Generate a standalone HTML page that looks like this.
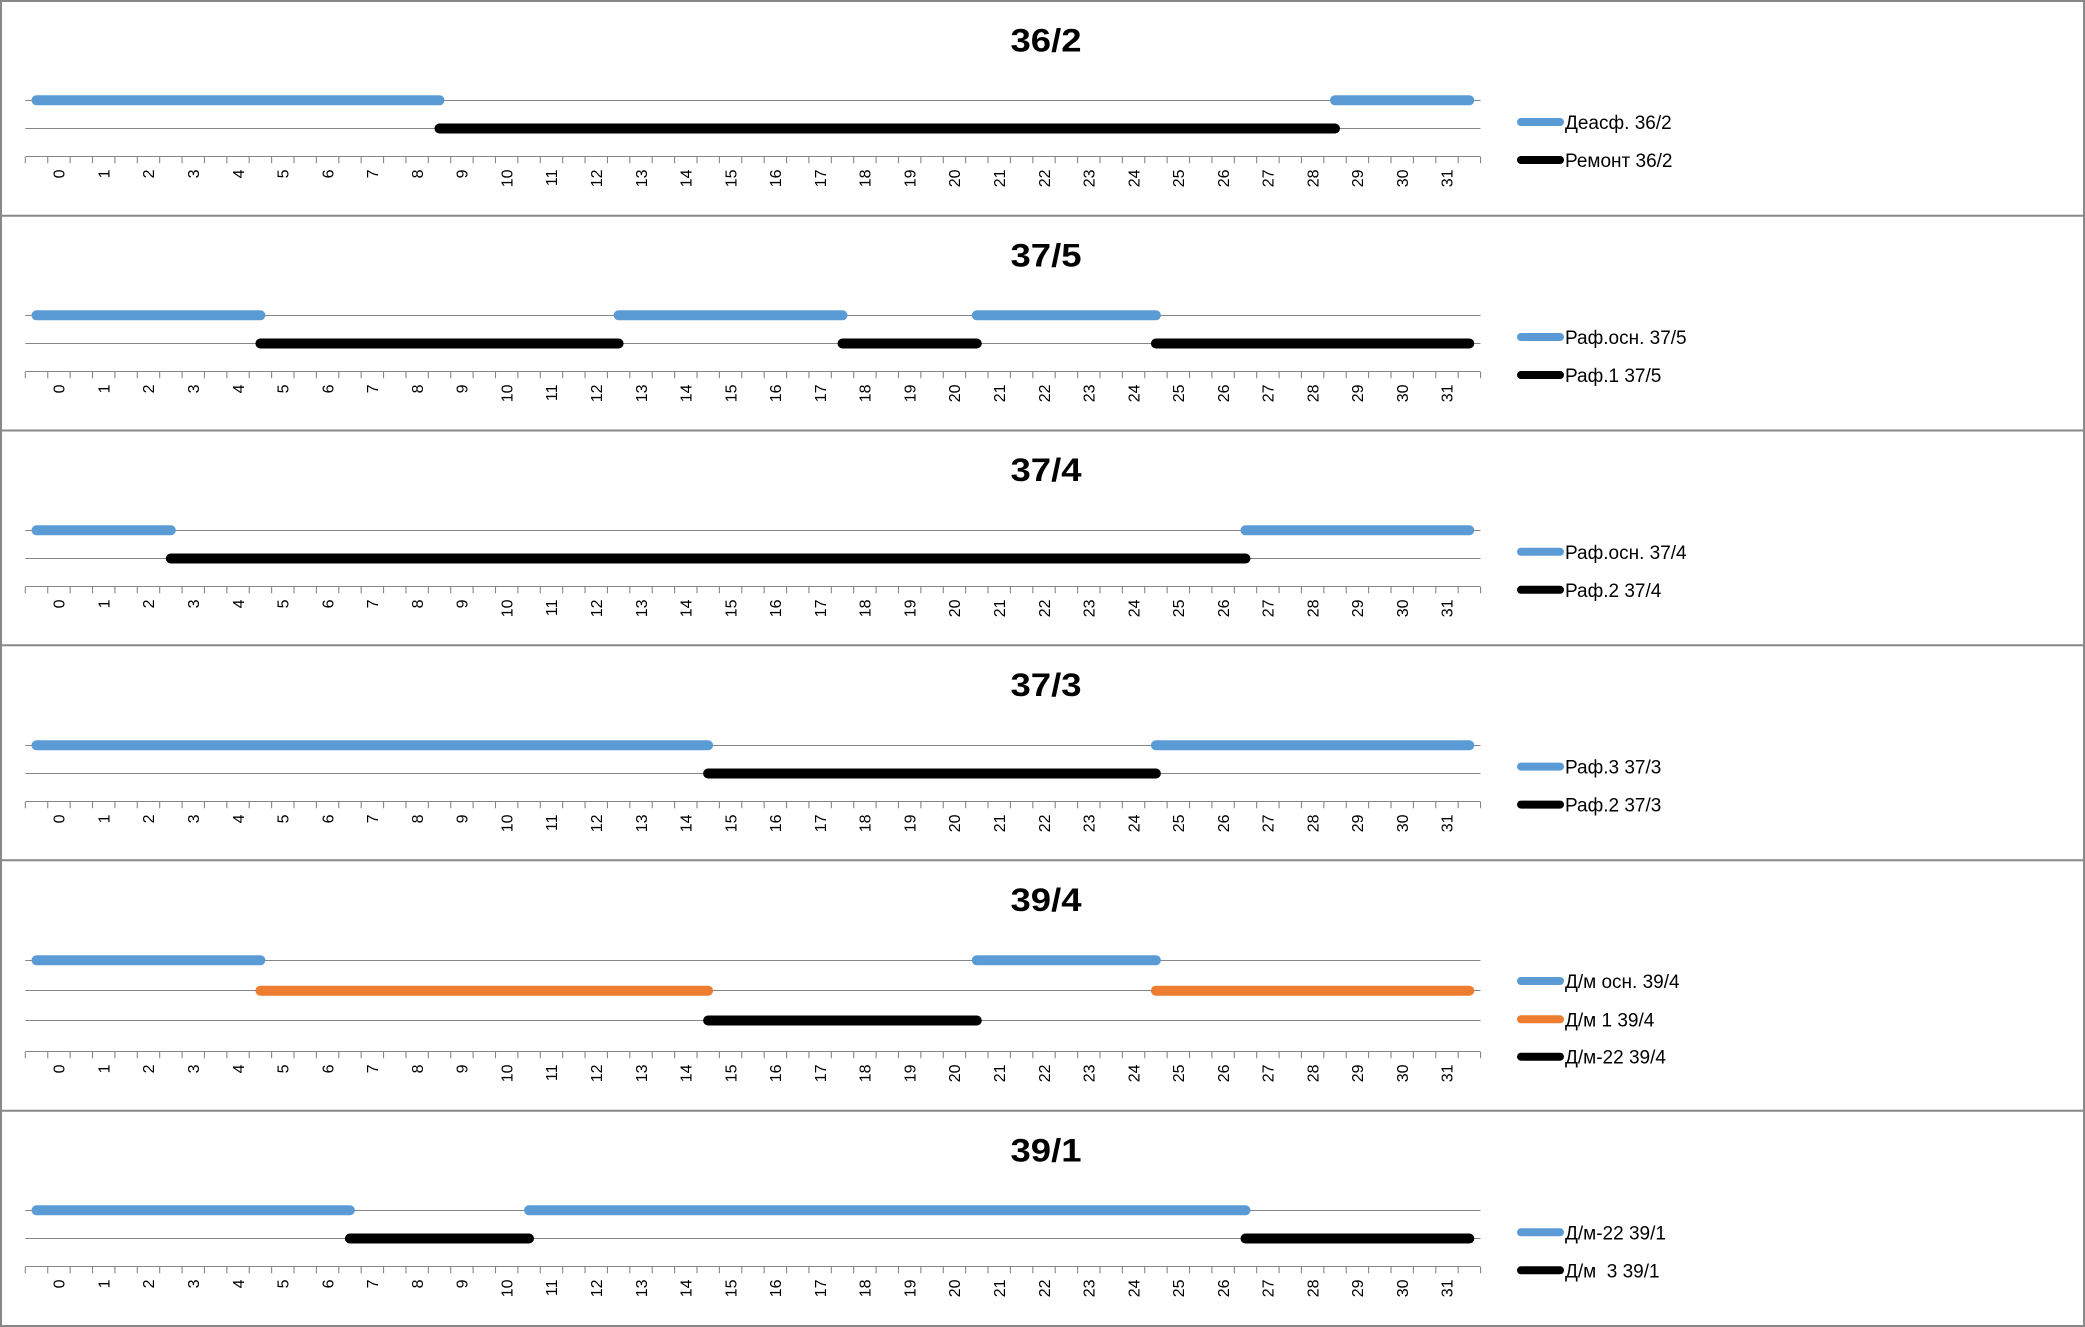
<!DOCTYPE html>
<html>
<head>
<meta charset="utf-8">
<style>
html,body{margin:0;padding:0;background:#fff;}
svg{display:block;}
.t{font-family:"Liberation Sans",sans-serif;font-weight:bold;font-size:32px;fill:#000;text-anchor:middle;}
.lab text{font-family:"Liberation Sans",sans-serif;font-size:16px;fill:#000;text-anchor:end;}
.leg{font-family:"Liberation Sans","DejaVu Sans",sans-serif;font-size:19px;fill:#000;}
.g{stroke:#868686;stroke-width:1;fill:none;}
.tk{stroke:#868686;stroke-width:6.3;stroke-dasharray:1.1 21.288;fill:none;}
.s{fill:none;stroke-width:10;stroke-linecap:round;stroke-linejoin:round;}
.b{stroke:#5B9BD5;}
.k{stroke:#000;}
.o{stroke:#ED7D31;}
.ls{fill:none;stroke-width:8;stroke-linecap:round;}
</style>
</head>
<body>
<svg width="2085" height="1327" viewBox="0 0 2085 1327" xmlns="http://www.w3.org/2000/svg">
<rect x="0" y="0" width="2085" height="1327" fill="#fff"/>

<!-- ===== Panel 1 ===== -->
<text class="t" x="1046" y="51.7" textLength="71" lengthAdjust="spacingAndGlyphs">36/2</text>
<line class="g" x1="25.3" y1="100.5" x2="1480.5" y2="100.5"/>
<line class="g" x1="25.3" y1="128.5" x2="1480.5" y2="128.5"/>
<line class="g" x1="25.3" y1="156.5" x2="1480.5" y2="156.5"/>
<line class="tk" x1="24.8" y1="160.15" x2="1482" y2="160.15"/>
<line class="s b" x1="36.5" y1="100.3" x2="439.5" y2="100.3"/>
<line class="s b" x1="1335" y1="100.3" x2="1469.3" y2="100.3"/>
<line class="s k" x1="439.5" y1="128.5" x2="1335" y2="128.5"/>
<line class="ls b" x1="1521" y1="122" x2="1560" y2="122"/>
<text class="leg" x="1565" y="129">Деасф. 36/2</text>
<line class="ls k" x1="1521" y1="160" x2="1560" y2="160"/>
<text class="leg" x="1565" y="167">Ремонт 36/2</text>
<g class="lab" transform="translate(0,169.5)">
<text transform="translate(58.9,0) rotate(-90)" dy="0.36em">0</text>
<text transform="translate(103.7,0) rotate(-90)" dy="0.36em">1</text>
<text transform="translate(148.4,0) rotate(-90)" dy="0.36em">2</text>
<text transform="translate(193.2,0) rotate(-90)" dy="0.36em">3</text>
<text transform="translate(238.0,0) rotate(-90)" dy="0.36em">4</text>
<text transform="translate(282.8,0) rotate(-90)" dy="0.36em">5</text>
<text transform="translate(327.5,0) rotate(-90)" dy="0.36em">6</text>
<text transform="translate(372.3,0) rotate(-90)" dy="0.36em">7</text>
<text transform="translate(417.1,0) rotate(-90)" dy="0.36em">8</text>
<text transform="translate(461.9,0) rotate(-90)" dy="0.36em">9</text>
<text transform="translate(506.6,0) rotate(-90)" dy="0.36em">10</text>
<text transform="translate(551.4,0) rotate(-90)" dy="0.36em">11</text>
<text transform="translate(596.2,0) rotate(-90)" dy="0.36em">12</text>
<text transform="translate(641.0,0) rotate(-90)" dy="0.36em">13</text>
<text transform="translate(685.7,0) rotate(-90)" dy="0.36em">14</text>
<text transform="translate(730.5,0) rotate(-90)" dy="0.36em">15</text>
<text transform="translate(775.3,0) rotate(-90)" dy="0.36em">16</text>
<text transform="translate(820.1,0) rotate(-90)" dy="0.36em">17</text>
<text transform="translate(864.9,0) rotate(-90)" dy="0.36em">18</text>
<text transform="translate(909.6,0) rotate(-90)" dy="0.36em">19</text>
<text transform="translate(954.4,0) rotate(-90)" dy="0.36em">20</text>
<text transform="translate(999.2,0) rotate(-90)" dy="0.36em">21</text>
<text transform="translate(1044.0,0) rotate(-90)" dy="0.36em">22</text>
<text transform="translate(1088.7,0) rotate(-90)" dy="0.36em">23</text>
<text transform="translate(1133.5,0) rotate(-90)" dy="0.36em">24</text>
<text transform="translate(1178.3,0) rotate(-90)" dy="0.36em">25</text>
<text transform="translate(1223.1,0) rotate(-90)" dy="0.36em">26</text>
<text transform="translate(1267.8,0) rotate(-90)" dy="0.36em">27</text>
<text transform="translate(1312.6,0) rotate(-90)" dy="0.36em">28</text>
<text transform="translate(1357.4,0) rotate(-90)" dy="0.36em">29</text>
<text transform="translate(1402.2,0) rotate(-90)" dy="0.36em">30</text>
<text transform="translate(1446.9,0) rotate(-90)" dy="0.36em">31</text>
</g>

<!-- ===== Panel 2 ===== -->
<text class="t" x="1046" y="266.4" textLength="71" lengthAdjust="spacingAndGlyphs">37/5</text>
<line class="g" x1="25.3" y1="315.5" x2="1480.5" y2="315.5"/>
<line class="g" x1="25.3" y1="343.5" x2="1480.5" y2="343.5"/>
<line class="g" x1="25.3" y1="371.5" x2="1480.5" y2="371.5"/>
<line class="tk" x1="24.8" y1="375.15" x2="1482" y2="375.15"/>
<line class="s b" x1="36.5" y1="315.3" x2="260.4" y2="315.3"/>
<line class="s b" x1="618.6" y1="315.3" x2="842.5" y2="315.3"/>
<line class="s b" x1="976.8" y1="315.3" x2="1155.9" y2="315.3"/>
<line class="s k" x1="260.4" y1="343.5" x2="618.6" y2="343.5"/>
<line class="s k" x1="842.5" y1="343.5" x2="976.8" y2="343.5"/>
<line class="s k" x1="1155.9" y1="343.5" x2="1469.3" y2="343.5"/>
<line class="ls b" x1="1521" y1="337" x2="1560" y2="337"/>
<text class="leg" x="1565" y="344">Раф.осн. 37/5</text>
<line class="ls k" x1="1521" y1="375" x2="1560" y2="375"/>
<text class="leg" x="1565" y="382">Раф.1 37/5</text>
<g class="lab" transform="translate(0,384.5)">
<text transform="translate(58.9,0) rotate(-90)" dy="0.36em">0</text>
<text transform="translate(103.7,0) rotate(-90)" dy="0.36em">1</text>
<text transform="translate(148.4,0) rotate(-90)" dy="0.36em">2</text>
<text transform="translate(193.2,0) rotate(-90)" dy="0.36em">3</text>
<text transform="translate(238.0,0) rotate(-90)" dy="0.36em">4</text>
<text transform="translate(282.8,0) rotate(-90)" dy="0.36em">5</text>
<text transform="translate(327.5,0) rotate(-90)" dy="0.36em">6</text>
<text transform="translate(372.3,0) rotate(-90)" dy="0.36em">7</text>
<text transform="translate(417.1,0) rotate(-90)" dy="0.36em">8</text>
<text transform="translate(461.9,0) rotate(-90)" dy="0.36em">9</text>
<text transform="translate(506.6,0) rotate(-90)" dy="0.36em">10</text>
<text transform="translate(551.4,0) rotate(-90)" dy="0.36em">11</text>
<text transform="translate(596.2,0) rotate(-90)" dy="0.36em">12</text>
<text transform="translate(641.0,0) rotate(-90)" dy="0.36em">13</text>
<text transform="translate(685.7,0) rotate(-90)" dy="0.36em">14</text>
<text transform="translate(730.5,0) rotate(-90)" dy="0.36em">15</text>
<text transform="translate(775.3,0) rotate(-90)" dy="0.36em">16</text>
<text transform="translate(820.1,0) rotate(-90)" dy="0.36em">17</text>
<text transform="translate(864.9,0) rotate(-90)" dy="0.36em">18</text>
<text transform="translate(909.6,0) rotate(-90)" dy="0.36em">19</text>
<text transform="translate(954.4,0) rotate(-90)" dy="0.36em">20</text>
<text transform="translate(999.2,0) rotate(-90)" dy="0.36em">21</text>
<text transform="translate(1044.0,0) rotate(-90)" dy="0.36em">22</text>
<text transform="translate(1088.7,0) rotate(-90)" dy="0.36em">23</text>
<text transform="translate(1133.5,0) rotate(-90)" dy="0.36em">24</text>
<text transform="translate(1178.3,0) rotate(-90)" dy="0.36em">25</text>
<text transform="translate(1223.1,0) rotate(-90)" dy="0.36em">26</text>
<text transform="translate(1267.8,0) rotate(-90)" dy="0.36em">27</text>
<text transform="translate(1312.6,0) rotate(-90)" dy="0.36em">28</text>
<text transform="translate(1357.4,0) rotate(-90)" dy="0.36em">29</text>
<text transform="translate(1402.2,0) rotate(-90)" dy="0.36em">30</text>
<text transform="translate(1446.9,0) rotate(-90)" dy="0.36em">31</text>
</g>

<!-- ===== Panel 3 ===== -->
<text class="t" x="1046" y="481.2" textLength="71" lengthAdjust="spacingAndGlyphs">37/4</text>
<line class="g" x1="25.3" y1="530.5" x2="1480.5" y2="530.5"/>
<line class="g" x1="25.3" y1="558.5" x2="1480.5" y2="558.5"/>
<line class="g" x1="25.3" y1="586.5" x2="1480.5" y2="586.5"/>
<line class="tk" x1="24.8" y1="590.15" x2="1482" y2="590.15"/>
<line class="s b" x1="36.5" y1="530.3" x2="170.8" y2="530.3"/>
<line class="s b" x1="1245.5" y1="530.3" x2="1469.3" y2="530.3"/>
<line class="s k" x1="170.8" y1="558.5" x2="1245.5" y2="558.5"/>
<line class="ls b" x1="1521" y1="551.8" x2="1560" y2="551.8"/>
<text class="leg" x="1565" y="558.8">Раф.осн. 37/4</text>
<line class="ls k" x1="1521" y1="589.8" x2="1560" y2="589.8"/>
<text class="leg" x="1565" y="596.8">Раф.2 37/4</text>
<g class="lab" transform="translate(0,599.5)">
<text transform="translate(58.9,0) rotate(-90)" dy="0.36em">0</text>
<text transform="translate(103.7,0) rotate(-90)" dy="0.36em">1</text>
<text transform="translate(148.4,0) rotate(-90)" dy="0.36em">2</text>
<text transform="translate(193.2,0) rotate(-90)" dy="0.36em">3</text>
<text transform="translate(238.0,0) rotate(-90)" dy="0.36em">4</text>
<text transform="translate(282.8,0) rotate(-90)" dy="0.36em">5</text>
<text transform="translate(327.5,0) rotate(-90)" dy="0.36em">6</text>
<text transform="translate(372.3,0) rotate(-90)" dy="0.36em">7</text>
<text transform="translate(417.1,0) rotate(-90)" dy="0.36em">8</text>
<text transform="translate(461.9,0) rotate(-90)" dy="0.36em">9</text>
<text transform="translate(506.6,0) rotate(-90)" dy="0.36em">10</text>
<text transform="translate(551.4,0) rotate(-90)" dy="0.36em">11</text>
<text transform="translate(596.2,0) rotate(-90)" dy="0.36em">12</text>
<text transform="translate(641.0,0) rotate(-90)" dy="0.36em">13</text>
<text transform="translate(685.7,0) rotate(-90)" dy="0.36em">14</text>
<text transform="translate(730.5,0) rotate(-90)" dy="0.36em">15</text>
<text transform="translate(775.3,0) rotate(-90)" dy="0.36em">16</text>
<text transform="translate(820.1,0) rotate(-90)" dy="0.36em">17</text>
<text transform="translate(864.9,0) rotate(-90)" dy="0.36em">18</text>
<text transform="translate(909.6,0) rotate(-90)" dy="0.36em">19</text>
<text transform="translate(954.4,0) rotate(-90)" dy="0.36em">20</text>
<text transform="translate(999.2,0) rotate(-90)" dy="0.36em">21</text>
<text transform="translate(1044.0,0) rotate(-90)" dy="0.36em">22</text>
<text transform="translate(1088.7,0) rotate(-90)" dy="0.36em">23</text>
<text transform="translate(1133.5,0) rotate(-90)" dy="0.36em">24</text>
<text transform="translate(1178.3,0) rotate(-90)" dy="0.36em">25</text>
<text transform="translate(1223.1,0) rotate(-90)" dy="0.36em">26</text>
<text transform="translate(1267.8,0) rotate(-90)" dy="0.36em">27</text>
<text transform="translate(1312.6,0) rotate(-90)" dy="0.36em">28</text>
<text transform="translate(1357.4,0) rotate(-90)" dy="0.36em">29</text>
<text transform="translate(1402.2,0) rotate(-90)" dy="0.36em">30</text>
<text transform="translate(1446.9,0) rotate(-90)" dy="0.36em">31</text>
</g>

<!-- ===== Panel 4 ===== -->
<text class="t" x="1046" y="696" textLength="71" lengthAdjust="spacingAndGlyphs">37/3</text>
<line class="g" x1="25.3" y1="745.5" x2="1480.5" y2="745.5"/>
<line class="g" x1="25.3" y1="773.5" x2="1480.5" y2="773.5"/>
<line class="g" x1="25.3" y1="801.5" x2="1480.5" y2="801.5"/>
<line class="tk" x1="24.8" y1="805.15" x2="1482" y2="805.15"/>
<line class="s b" x1="36.5" y1="745.3" x2="708.1" y2="745.3"/>
<line class="s b" x1="1155.9" y1="745.3" x2="1469.3" y2="745.3"/>
<line class="s k" x1="708.1" y1="773.5" x2="1155.9" y2="773.5"/>
<line class="ls b" x1="1521" y1="766.6" x2="1560" y2="766.6"/>
<text class="leg" x="1565" y="773.6">Раф.3 37/3</text>
<line class="ls k" x1="1521" y1="804.6" x2="1560" y2="804.6"/>
<text class="leg" x="1565" y="811.6">Раф.2 37/3</text>
<g class="lab" transform="translate(0,814.5)">
<text transform="translate(58.9,0) rotate(-90)" dy="0.36em">0</text>
<text transform="translate(103.7,0) rotate(-90)" dy="0.36em">1</text>
<text transform="translate(148.4,0) rotate(-90)" dy="0.36em">2</text>
<text transform="translate(193.2,0) rotate(-90)" dy="0.36em">3</text>
<text transform="translate(238.0,0) rotate(-90)" dy="0.36em">4</text>
<text transform="translate(282.8,0) rotate(-90)" dy="0.36em">5</text>
<text transform="translate(327.5,0) rotate(-90)" dy="0.36em">6</text>
<text transform="translate(372.3,0) rotate(-90)" dy="0.36em">7</text>
<text transform="translate(417.1,0) rotate(-90)" dy="0.36em">8</text>
<text transform="translate(461.9,0) rotate(-90)" dy="0.36em">9</text>
<text transform="translate(506.6,0) rotate(-90)" dy="0.36em">10</text>
<text transform="translate(551.4,0) rotate(-90)" dy="0.36em">11</text>
<text transform="translate(596.2,0) rotate(-90)" dy="0.36em">12</text>
<text transform="translate(641.0,0) rotate(-90)" dy="0.36em">13</text>
<text transform="translate(685.7,0) rotate(-90)" dy="0.36em">14</text>
<text transform="translate(730.5,0) rotate(-90)" dy="0.36em">15</text>
<text transform="translate(775.3,0) rotate(-90)" dy="0.36em">16</text>
<text transform="translate(820.1,0) rotate(-90)" dy="0.36em">17</text>
<text transform="translate(864.9,0) rotate(-90)" dy="0.36em">18</text>
<text transform="translate(909.6,0) rotate(-90)" dy="0.36em">19</text>
<text transform="translate(954.4,0) rotate(-90)" dy="0.36em">20</text>
<text transform="translate(999.2,0) rotate(-90)" dy="0.36em">21</text>
<text transform="translate(1044.0,0) rotate(-90)" dy="0.36em">22</text>
<text transform="translate(1088.7,0) rotate(-90)" dy="0.36em">23</text>
<text transform="translate(1133.5,0) rotate(-90)" dy="0.36em">24</text>
<text transform="translate(1178.3,0) rotate(-90)" dy="0.36em">25</text>
<text transform="translate(1223.1,0) rotate(-90)" dy="0.36em">26</text>
<text transform="translate(1267.8,0) rotate(-90)" dy="0.36em">27</text>
<text transform="translate(1312.6,0) rotate(-90)" dy="0.36em">28</text>
<text transform="translate(1357.4,0) rotate(-90)" dy="0.36em">29</text>
<text transform="translate(1402.2,0) rotate(-90)" dy="0.36em">30</text>
<text transform="translate(1446.9,0) rotate(-90)" dy="0.36em">31</text>
</g>

<!-- ===== Panel 5 ===== -->
<text class="t" x="1046" y="911.2" textLength="71" lengthAdjust="spacingAndGlyphs">39/4</text>
<line class="g" x1="25.3" y1="960.5" x2="1480.5" y2="960.5"/>
<line class="g" x1="25.3" y1="990.5" x2="1480.5" y2="990.5"/>
<line class="g" x1="25.3" y1="1020.5" x2="1480.5" y2="1020.5"/>
<line class="g" x1="25.3" y1="1051.5" x2="1480.5" y2="1051.5"/>
<line class="tk" x1="24.8" y1="1055.15" x2="1482" y2="1055.15"/>
<line class="s b" x1="36.5" y1="960.3" x2="260.4" y2="960.3"/>
<line class="s b" x1="976.8" y1="960.3" x2="1155.9" y2="960.3"/>
<line class="s o" x1="260.4" y1="990.7" x2="708.1" y2="990.7"/>
<line class="s o" x1="1155.9" y1="990.7" x2="1469.3" y2="990.7"/>
<line class="s k" x1="708.1" y1="1020.5" x2="976.8" y2="1020.5"/>
<line class="ls b" x1="1521" y1="981" x2="1560" y2="981"/>
<text class="leg" x="1565" y="988">Д/м осн. 39/4</text>
<line class="ls o" x1="1521" y1="1019.3" x2="1560" y2="1019.3"/>
<text class="leg" x="1565" y="1026.3">Д/м 1 39/4</text>
<line class="ls k" x1="1521" y1="1056.7" x2="1560" y2="1056.7"/>
<text class="leg" x="1565" y="1063.7">Д/м-22 39/4</text>
<g class="lab" transform="translate(0,1064.5)">
<text transform="translate(58.9,0) rotate(-90)" dy="0.36em">0</text>
<text transform="translate(103.7,0) rotate(-90)" dy="0.36em">1</text>
<text transform="translate(148.4,0) rotate(-90)" dy="0.36em">2</text>
<text transform="translate(193.2,0) rotate(-90)" dy="0.36em">3</text>
<text transform="translate(238.0,0) rotate(-90)" dy="0.36em">4</text>
<text transform="translate(282.8,0) rotate(-90)" dy="0.36em">5</text>
<text transform="translate(327.5,0) rotate(-90)" dy="0.36em">6</text>
<text transform="translate(372.3,0) rotate(-90)" dy="0.36em">7</text>
<text transform="translate(417.1,0) rotate(-90)" dy="0.36em">8</text>
<text transform="translate(461.9,0) rotate(-90)" dy="0.36em">9</text>
<text transform="translate(506.6,0) rotate(-90)" dy="0.36em">10</text>
<text transform="translate(551.4,0) rotate(-90)" dy="0.36em">11</text>
<text transform="translate(596.2,0) rotate(-90)" dy="0.36em">12</text>
<text transform="translate(641.0,0) rotate(-90)" dy="0.36em">13</text>
<text transform="translate(685.7,0) rotate(-90)" dy="0.36em">14</text>
<text transform="translate(730.5,0) rotate(-90)" dy="0.36em">15</text>
<text transform="translate(775.3,0) rotate(-90)" dy="0.36em">16</text>
<text transform="translate(820.1,0) rotate(-90)" dy="0.36em">17</text>
<text transform="translate(864.9,0) rotate(-90)" dy="0.36em">18</text>
<text transform="translate(909.6,0) rotate(-90)" dy="0.36em">19</text>
<text transform="translate(954.4,0) rotate(-90)" dy="0.36em">20</text>
<text transform="translate(999.2,0) rotate(-90)" dy="0.36em">21</text>
<text transform="translate(1044.0,0) rotate(-90)" dy="0.36em">22</text>
<text transform="translate(1088.7,0) rotate(-90)" dy="0.36em">23</text>
<text transform="translate(1133.5,0) rotate(-90)" dy="0.36em">24</text>
<text transform="translate(1178.3,0) rotate(-90)" dy="0.36em">25</text>
<text transform="translate(1223.1,0) rotate(-90)" dy="0.36em">26</text>
<text transform="translate(1267.8,0) rotate(-90)" dy="0.36em">27</text>
<text transform="translate(1312.6,0) rotate(-90)" dy="0.36em">28</text>
<text transform="translate(1357.4,0) rotate(-90)" dy="0.36em">29</text>
<text transform="translate(1402.2,0) rotate(-90)" dy="0.36em">30</text>
<text transform="translate(1446.9,0) rotate(-90)" dy="0.36em">31</text>
</g>

<!-- ===== Panel 6 ===== -->
<text class="t" x="1046" y="1161.4" textLength="71" lengthAdjust="spacingAndGlyphs">39/1</text>
<line class="g" x1="25.3" y1="1210.5" x2="1480.5" y2="1210.5"/>
<line class="g" x1="25.3" y1="1238.5" x2="1480.5" y2="1238.5"/>
<line class="g" x1="25.3" y1="1266.5" x2="1480.5" y2="1266.5"/>
<line class="tk" x1="24.8" y1="1270.15" x2="1482" y2="1270.15"/>
<line class="s b" x1="36.5" y1="1210.3" x2="349.9" y2="1210.3"/>
<line class="s b" x1="529.0" y1="1210.3" x2="1245.5" y2="1210.3"/>
<line class="s k" x1="349.9" y1="1238.5" x2="529.0" y2="1238.5"/>
<line class="s k" x1="1245.5" y1="1238.5" x2="1469.3" y2="1238.5"/>
<line class="ls b" x1="1521" y1="1232.3" x2="1560" y2="1232.3"/>
<text class="leg" x="1565" y="1239.3">Д/м-22 39/1</text>
<line class="ls k" x1="1521" y1="1270.3" x2="1560" y2="1270.3"/>
<text class="leg" x="1565" y="1277.3">Д/м&#160; 3 39/1</text>
<g class="lab" transform="translate(0,1279.5)">
<text transform="translate(58.9,0) rotate(-90)" dy="0.36em">0</text>
<text transform="translate(103.7,0) rotate(-90)" dy="0.36em">1</text>
<text transform="translate(148.4,0) rotate(-90)" dy="0.36em">2</text>
<text transform="translate(193.2,0) rotate(-90)" dy="0.36em">3</text>
<text transform="translate(238.0,0) rotate(-90)" dy="0.36em">4</text>
<text transform="translate(282.8,0) rotate(-90)" dy="0.36em">5</text>
<text transform="translate(327.5,0) rotate(-90)" dy="0.36em">6</text>
<text transform="translate(372.3,0) rotate(-90)" dy="0.36em">7</text>
<text transform="translate(417.1,0) rotate(-90)" dy="0.36em">8</text>
<text transform="translate(461.9,0) rotate(-90)" dy="0.36em">9</text>
<text transform="translate(506.6,0) rotate(-90)" dy="0.36em">10</text>
<text transform="translate(551.4,0) rotate(-90)" dy="0.36em">11</text>
<text transform="translate(596.2,0) rotate(-90)" dy="0.36em">12</text>
<text transform="translate(641.0,0) rotate(-90)" dy="0.36em">13</text>
<text transform="translate(685.7,0) rotate(-90)" dy="0.36em">14</text>
<text transform="translate(730.5,0) rotate(-90)" dy="0.36em">15</text>
<text transform="translate(775.3,0) rotate(-90)" dy="0.36em">16</text>
<text transform="translate(820.1,0) rotate(-90)" dy="0.36em">17</text>
<text transform="translate(864.9,0) rotate(-90)" dy="0.36em">18</text>
<text transform="translate(909.6,0) rotate(-90)" dy="0.36em">19</text>
<text transform="translate(954.4,0) rotate(-90)" dy="0.36em">20</text>
<text transform="translate(999.2,0) rotate(-90)" dy="0.36em">21</text>
<text transform="translate(1044.0,0) rotate(-90)" dy="0.36em">22</text>
<text transform="translate(1088.7,0) rotate(-90)" dy="0.36em">23</text>
<text transform="translate(1133.5,0) rotate(-90)" dy="0.36em">24</text>
<text transform="translate(1178.3,0) rotate(-90)" dy="0.36em">25</text>
<text transform="translate(1223.1,0) rotate(-90)" dy="0.36em">26</text>
<text transform="translate(1267.8,0) rotate(-90)" dy="0.36em">27</text>
<text transform="translate(1312.6,0) rotate(-90)" dy="0.36em">28</text>
<text transform="translate(1357.4,0) rotate(-90)" dy="0.36em">29</text>
<text transform="translate(1402.2,0) rotate(-90)" dy="0.36em">30</text>
<text transform="translate(1446.9,0) rotate(-90)" dy="0.36em">31</text>
</g>

<!-- borders -->
<rect x="1" y="1" width="2083" height="1325" fill="none" stroke="#888" stroke-width="2"/>
<line x1="0" y1="215.7" x2="2085" y2="215.7" stroke="#888" stroke-width="2"/>
<line x1="0" y1="430.5" x2="2085" y2="430.5" stroke="#888" stroke-width="2"/>
<line x1="0" y1="645.3" x2="2085" y2="645.3" stroke="#888" stroke-width="2"/>
<line x1="0" y1="860.3" x2="2085" y2="860.3" stroke="#888" stroke-width="2"/>
<line x1="0" y1="1110.7" x2="2085" y2="1110.7" stroke="#888" stroke-width="2"/>
</svg>
</body>
</html>
